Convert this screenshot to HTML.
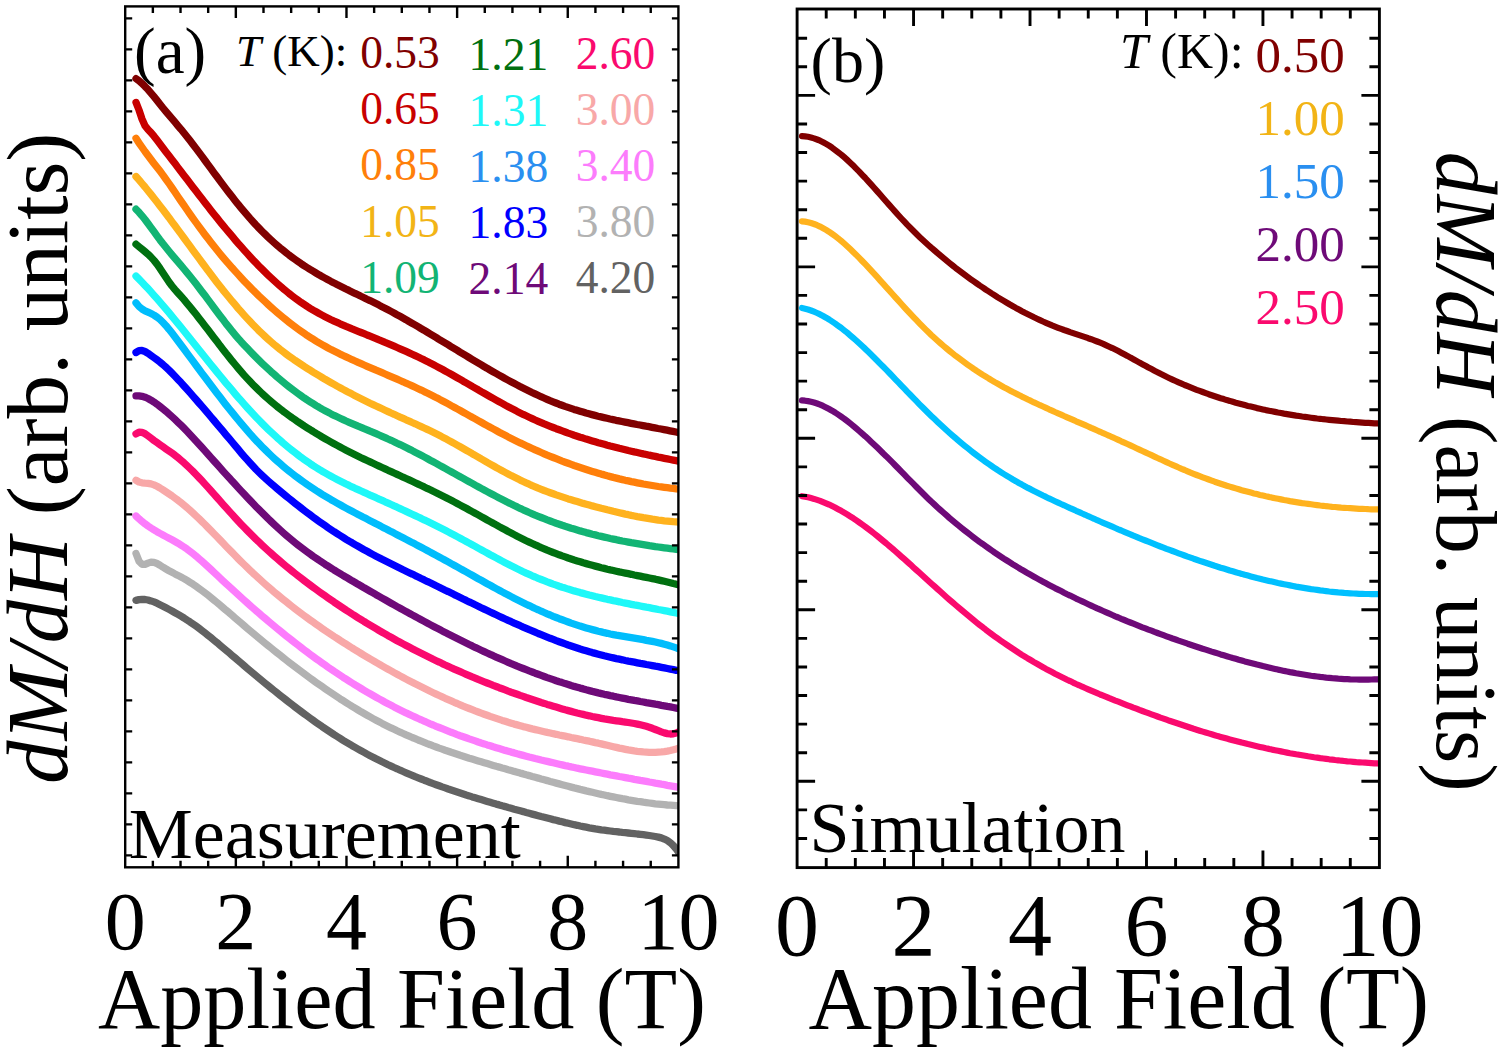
<!DOCTYPE html>
<html><head><meta charset="utf-8"><style>
html,body{margin:0;padding:0;background:#fff;}
body{width:1500px;height:1052px;overflow:hidden;font-family:"Liberation Serif",serif;}
svg{display:block;}
</style></head><body>
<svg width="1500" height="1052" viewBox="0 0 1500 1052">
<rect width="1500" height="1052" fill="#fff"/>
<defs><clipPath id="ca"><rect x="125.20" y="6.40" width="553.20" height="860.90"/></clipPath><clipPath id="cb"><rect x="797.10" y="9.00" width="582.30" height="858.60"/></clipPath></defs>
<g clip-path="url(#ca)" fill="none" stroke-linecap="round" stroke-linejoin="round" stroke-width="7.3">
<path d="M136.0,600.4 L139.0,599.6 L142.0,599.4 L145.0,599.5 L148.0,600.0 L151.0,600.9 L154.0,601.9 L157.0,603.2 L160.0,604.7 L163.0,606.2 L166.0,607.8 L169.0,609.4 L172.0,611.0 L175.0,612.7 L178.0,614.4 L181.0,616.2 L184.0,618.0 L187.0,620.0 L190.0,621.9 L193.0,624.0 L196.0,626.1 L199.0,628.3 L202.0,630.6 L205.0,632.9 L208.0,635.3 L211.0,637.7 L214.0,640.2 L217.0,642.6 L220.0,645.2 L223.0,647.7 L226.0,650.2 L229.1,652.8 L232.1,655.4 L235.1,657.9 L238.1,660.5 L241.1,663.1 L244.1,665.6 L247.1,668.2 L250.1,670.7 L253.1,673.2 L256.1,675.7 L259.1,678.2 L262.1,680.7 L265.1,683.2 L268.1,685.6 L271.1,688.1 L274.1,690.5 L277.1,692.9 L280.1,695.3 L283.1,697.7 L286.1,700.0 L289.1,702.4 L292.1,704.7 L295.1,707.0 L298.1,709.2 L301.1,711.5 L304.1,713.7 L307.1,715.9 L310.1,718.1 L313.1,720.3 L316.1,722.4 L319.1,724.5 L322.1,726.6 L325.1,728.6 L328.1,730.6 L331.1,732.6 L334.1,734.6 L337.1,736.5 L340.1,738.4 L343.1,740.3 L346.1,742.1 L349.1,743.9 L352.1,745.7 L355.1,747.4 L358.1,749.1 L361.1,750.8 L364.1,752.4 L367.1,754.1 L370.1,755.7 L373.1,757.2 L376.1,758.8 L379.1,760.3 L382.1,761.8 L385.1,763.2 L388.1,764.7 L391.1,766.1 L394.1,767.5 L397.1,768.8 L400.1,770.2 L403.1,771.5 L406.1,772.8 L409.2,774.1 L412.2,775.3 L415.2,776.6 L418.2,777.8 L421.2,779.0 L424.2,780.2 L427.2,781.3 L430.2,782.5 L433.2,783.6 L436.2,784.7 L439.2,785.8 L442.2,786.9 L445.2,787.9 L448.2,789.0 L451.2,790.0 L454.2,791.0 L457.2,792.0 L460.2,793.0 L463.2,794.0 L466.2,795.0 L469.2,795.9 L472.2,796.9 L475.2,797.8 L478.2,798.7 L481.2,799.6 L484.2,800.5 L487.2,801.4 L490.2,802.3 L493.2,803.2 L496.2,804.1 L499.2,804.9 L502.2,805.8 L505.2,806.6 L508.2,807.5 L511.2,808.3 L514.2,809.2 L517.2,810.0 L520.2,810.8 L523.2,811.6 L526.2,812.5 L529.2,813.3 L532.2,814.1 L535.2,814.9 L538.2,815.7 L541.2,816.5 L544.2,817.2 L547.2,818.0 L550.2,818.8 L553.2,819.6 L556.2,820.3 L559.2,821.1 L562.2,821.8 L565.2,822.6 L568.2,823.3 L571.2,824.0 L574.2,824.7 L577.2,825.3 L580.2,826.0 L583.2,826.6 L586.2,827.2 L589.3,827.8 L592.3,828.3 L595.3,828.9 L598.3,829.3 L601.3,829.8 L604.3,830.2 L607.3,830.6 L610.3,831.0 L613.3,831.4 L616.3,831.7 L619.3,832.0 L622.3,832.4 L625.3,832.7 L628.3,833.0 L631.3,833.3 L634.3,833.6 L637.3,834.0 L640.3,834.3 L643.3,834.7 L646.3,835.1 L649.3,835.5 L652.3,836.0 L655.3,836.5 L658.3,837.1 L661.3,837.9 L664.3,839.1 L667.3,840.6 L670.3,842.7 L673.3,845.5 L676.3,849.0 L679.3,853.4" stroke="#626262"/>
<path d="M136.0,553.5 L139.0,561.2 L142.0,564.3 L145.0,564.4 L148.0,563.1 L151.0,562.1 L154.0,562.4 L157.0,563.5 L160.0,565.2 L163.0,567.2 L166.0,569.0 L169.0,570.7 L172.0,572.3 L175.0,573.9 L178.0,575.4 L181.0,577.0 L184.0,578.6 L187.0,580.4 L190.0,582.3 L193.0,584.2 L196.0,586.3 L199.0,588.4 L202.0,590.6 L205.0,592.9 L208.0,595.2 L211.0,597.6 L214.0,600.1 L217.0,602.5 L220.0,605.1 L223.0,607.6 L226.0,610.2 L229.1,612.7 L232.1,615.3 L235.1,617.9 L238.1,620.5 L241.1,623.1 L244.1,625.6 L247.1,628.2 L250.1,630.7 L253.1,633.2 L256.1,635.7 L259.1,638.2 L262.1,640.7 L265.1,643.2 L268.1,645.6 L271.1,648.0 L274.1,650.5 L277.1,652.9 L280.1,655.2 L283.1,657.6 L286.1,660.0 L289.1,662.3 L292.1,664.6 L295.1,666.9 L298.1,669.2 L301.1,671.4 L304.1,673.7 L307.1,675.9 L310.1,678.1 L313.1,680.3 L316.1,682.4 L319.1,684.5 L322.1,686.6 L325.1,688.7 L328.1,690.8 L331.1,692.8 L334.1,694.8 L337.1,696.8 L340.1,698.8 L343.1,700.7 L346.1,702.6 L349.1,704.5 L352.1,706.4 L355.1,708.2 L358.1,710.0 L361.1,711.8 L364.1,713.5 L367.1,715.2 L370.1,716.9 L373.1,718.6 L376.1,720.2 L379.1,721.8 L382.1,723.4 L385.1,724.9 L388.1,726.4 L391.1,727.9 L394.1,729.3 L397.1,730.8 L400.1,732.2 L403.1,733.5 L406.1,734.9 L409.2,736.2 L412.2,737.5 L415.2,738.7 L418.2,740.0 L421.2,741.2 L424.2,742.4 L427.2,743.6 L430.2,744.7 L433.2,745.9 L436.2,747.0 L439.2,748.1 L442.2,749.1 L445.2,750.2 L448.2,751.2 L451.2,752.3 L454.2,753.3 L457.2,754.3 L460.2,755.3 L463.2,756.2 L466.2,757.2 L469.2,758.2 L472.2,759.1 L475.2,760.0 L478.2,760.9 L481.2,761.8 L484.2,762.7 L487.2,763.6 L490.2,764.5 L493.2,765.4 L496.2,766.3 L499.2,767.1 L502.2,768.0 L505.2,768.8 L508.2,769.7 L511.2,770.5 L514.2,771.4 L517.2,772.2 L520.2,773.1 L523.2,773.9 L526.2,774.8 L529.2,775.6 L532.2,776.5 L535.2,777.3 L538.2,778.1 L541.2,779.0 L544.2,779.8 L547.2,780.6 L550.2,781.5 L553.2,782.3 L556.2,783.1 L559.2,783.9 L562.2,784.7 L565.2,785.5 L568.2,786.3 L571.2,787.1 L574.2,787.9 L577.2,788.6 L580.2,789.4 L583.2,790.1 L586.2,790.9 L589.3,791.6 L592.3,792.3 L595.3,793.0 L598.3,793.7 L601.3,794.4 L604.3,795.0 L607.3,795.7 L610.3,796.3 L613.3,796.9 L616.3,797.5 L619.3,798.1 L622.3,798.7 L625.3,799.2 L628.3,799.8 L631.3,800.3 L634.3,800.8 L637.3,801.3 L640.3,801.7 L643.3,802.2 L646.3,802.6 L649.3,803.0 L652.3,803.4 L655.3,803.8 L658.3,804.1 L661.3,804.4 L664.3,804.7 L667.3,805.0 L670.3,805.2 L673.3,805.4 L676.3,805.6 L679.3,805.8" stroke="#b2b2b2"/>
<path d="M136.0,516.0 L139.0,518.8 L142.0,521.4 L145.0,523.8 L148.0,526.0 L151.0,528.0 L154.0,529.9 L157.0,531.7 L160.0,533.4 L163.0,535.0 L166.0,536.6 L169.0,538.2 L172.0,539.8 L175.0,541.5 L178.0,543.2 L181.0,545.1 L184.0,547.0 L187.0,549.1 L190.0,551.4 L193.0,553.7 L196.0,556.1 L199.0,558.7 L202.0,561.3 L205.0,564.0 L208.0,566.7 L211.0,569.5 L214.0,572.3 L217.0,575.1 L220.0,578.0 L223.0,580.8 L226.0,583.6 L229.1,586.4 L232.1,589.2 L235.1,591.9 L238.1,594.7 L241.1,597.4 L244.1,600.1 L247.1,602.8 L250.1,605.4 L253.1,608.1 L256.1,610.7 L259.1,613.3 L262.1,615.9 L265.1,618.4 L268.1,621.0 L271.1,623.5 L274.1,626.0 L277.1,628.5 L280.1,630.9 L283.1,633.4 L286.1,635.8 L289.1,638.2 L292.1,640.5 L295.1,642.9 L298.1,645.2 L301.1,647.5 L304.1,649.8 L307.1,652.0 L310.1,654.3 L313.1,656.5 L316.1,658.7 L319.1,660.8 L322.1,663.0 L325.1,665.1 L328.1,667.2 L331.1,669.2 L334.1,671.3 L337.1,673.3 L340.1,675.3 L343.1,677.3 L346.1,679.2 L349.1,681.1 L352.1,683.0 L355.1,684.9 L358.1,686.7 L361.1,688.5 L364.1,690.3 L367.1,692.1 L370.1,693.8 L373.1,695.5 L376.1,697.2 L379.1,698.9 L382.1,700.5 L385.1,702.2 L388.1,703.8 L391.1,705.3 L394.1,706.9 L397.1,708.4 L400.1,709.9 L403.1,711.4 L406.1,712.9 L409.2,714.3 L412.2,715.7 L415.2,717.1 L418.2,718.5 L421.2,719.8 L424.2,721.2 L427.2,722.5 L430.2,723.8 L433.2,725.0 L436.2,726.3 L439.2,727.5 L442.2,728.7 L445.2,729.9 L448.2,731.1 L451.2,732.3 L454.2,733.4 L457.2,734.6 L460.2,735.7 L463.2,736.7 L466.2,737.8 L469.2,738.9 L472.2,739.9 L475.2,740.9 L478.2,742.0 L481.2,743.0 L484.2,743.9 L487.2,744.9 L490.2,745.8 L493.2,746.8 L496.2,747.7 L499.2,748.6 L502.2,749.5 L505.2,750.4 L508.2,751.2 L511.2,752.1 L514.2,752.9 L517.2,753.8 L520.2,754.6 L523.2,755.4 L526.2,756.2 L529.2,757.0 L532.2,757.7 L535.2,758.5 L538.2,759.2 L541.2,760.0 L544.2,760.7 L547.2,761.4 L550.2,762.1 L553.2,762.8 L556.2,763.5 L559.2,764.2 L562.2,764.9 L565.2,765.6 L568.2,766.2 L571.2,766.9 L574.2,767.5 L577.2,768.2 L580.2,768.8 L583.2,769.4 L586.2,770.0 L589.3,770.6 L592.3,771.2 L595.3,771.8 L598.3,772.4 L601.3,773.0 L604.3,773.6 L607.3,774.2 L610.3,774.8 L613.3,775.3 L616.3,775.9 L619.3,776.5 L622.3,777.0 L625.3,777.6 L628.3,778.2 L631.3,778.7 L634.3,779.3 L637.3,779.8 L640.3,780.4 L643.3,780.9 L646.3,781.4 L649.3,782.0 L652.3,782.5 L655.3,783.1 L658.3,783.6 L661.3,784.2 L664.3,784.7 L667.3,785.3 L670.3,785.8 L673.3,786.3 L676.3,786.9 L679.3,787.4" stroke="#fc7cfc"/>
<path d="M136.0,480.3 L139.0,482.0 L142.0,482.8 L145.0,483.1 L148.0,483.3 L151.0,483.9 L154.0,484.9 L157.0,486.3 L160.0,488.0 L163.0,489.9 L166.0,491.9 L169.0,493.9 L172.0,495.9 L175.0,498.1 L178.0,500.3 L181.0,502.7 L184.0,505.1 L187.0,507.6 L190.0,510.3 L193.0,513.0 L196.0,515.8 L199.0,518.6 L202.0,521.6 L205.0,524.5 L208.0,527.6 L211.0,530.6 L214.0,533.7 L217.0,536.8 L220.0,539.9 L223.0,543.1 L226.0,546.2 L229.1,549.3 L232.1,552.4 L235.1,555.5 L238.1,558.6 L241.1,561.6 L244.1,564.5 L247.1,567.4 L250.1,570.3 L253.1,573.2 L256.1,575.9 L259.1,578.7 L262.1,581.4 L265.1,584.1 L268.1,586.7 L271.1,589.3 L274.1,591.9 L277.1,594.4 L280.1,596.9 L283.1,599.3 L286.1,601.7 L289.1,604.1 L292.1,606.5 L295.1,608.8 L298.1,611.1 L301.1,613.4 L304.1,615.6 L307.1,617.8 L310.1,620.0 L313.1,622.1 L316.1,624.2 L319.1,626.3 L322.1,628.4 L325.1,630.5 L328.1,632.5 L331.1,634.5 L334.1,636.5 L337.1,638.4 L340.1,640.4 L343.1,642.3 L346.1,644.2 L349.1,646.1 L352.1,648.0 L355.1,649.8 L358.1,651.7 L361.1,653.5 L364.1,655.3 L367.1,657.1 L370.1,658.9 L373.1,660.6 L376.1,662.4 L379.1,664.1 L382.1,665.9 L385.1,667.6 L388.1,669.3 L391.1,670.9 L394.1,672.6 L397.1,674.2 L400.1,675.9 L403.1,677.5 L406.1,679.1 L409.2,680.7 L412.2,682.2 L415.2,683.8 L418.2,685.3 L421.2,686.8 L424.2,688.3 L427.2,689.8 L430.2,691.3 L433.2,692.7 L436.2,694.1 L439.2,695.5 L442.2,696.9 L445.2,698.3 L448.2,699.6 L451.2,700.9 L454.2,702.3 L457.2,703.5 L460.2,704.8 L463.2,706.1 L466.2,707.3 L469.2,708.5 L472.2,709.7 L475.2,710.9 L478.2,712.0 L481.2,713.1 L484.2,714.2 L487.2,715.3 L490.2,716.4 L493.2,717.4 L496.2,718.4 L499.2,719.4 L502.2,720.4 L505.2,721.3 L508.2,722.3 L511.2,723.2 L514.2,724.1 L517.2,724.9 L520.2,725.7 L523.2,726.6 L526.2,727.3 L529.2,728.1 L532.2,728.9 L535.2,729.6 L538.2,730.3 L541.2,731.0 L544.2,731.7 L547.2,732.4 L550.2,733.0 L553.2,733.7 L556.2,734.3 L559.2,735.0 L562.2,735.6 L565.2,736.2 L568.2,736.8 L571.2,737.5 L574.2,738.1 L577.2,738.7 L580.2,739.3 L583.2,740.0 L586.2,740.6 L589.3,741.2 L592.3,741.9 L595.3,742.6 L598.3,743.2 L601.3,743.9 L604.3,744.6 L607.3,745.3 L610.3,746.0 L613.3,746.7 L616.3,747.4 L619.3,748.1 L622.3,748.7 L625.3,749.3 L628.3,749.9 L631.3,750.4 L634.3,750.9 L637.3,751.3 L640.3,751.6 L643.3,751.9 L646.3,752.1 L649.3,752.3 L652.3,752.3 L655.3,752.3 L658.3,752.1 L661.3,751.9 L664.3,751.6 L667.3,751.1 L670.3,750.5 L673.3,749.8 L676.3,748.9 L679.3,747.9" stroke="#f8a8a8"/>
<path d="M136.0,433.9 L139.0,432.2 L142.0,432.4 L145.0,433.7 L148.0,435.9 L151.0,438.2 L154.0,440.5 L157.0,442.6 L160.0,444.7 L163.0,446.8 L166.0,448.9 L169.0,451.0 L172.0,453.1 L175.0,455.3 L178.0,457.7 L181.0,460.2 L184.0,462.8 L187.0,465.6 L190.0,468.5 L193.0,471.4 L196.0,474.5 L199.0,477.6 L202.0,480.8 L205.0,484.1 L208.0,487.4 L211.0,490.7 L214.0,494.1 L217.0,497.5 L220.0,500.9 L223.0,504.3 L226.0,507.7 L229.1,511.1 L232.1,514.4 L235.1,517.7 L238.1,521.0 L241.1,524.2 L244.1,527.3 L247.1,530.4 L250.1,533.4 L253.1,536.4 L256.1,539.4 L259.1,542.2 L262.1,545.1 L265.1,547.9 L268.1,550.6 L271.1,553.3 L274.1,556.0 L277.1,558.6 L280.1,561.1 L283.1,563.7 L286.1,566.2 L289.1,568.6 L292.1,571.1 L295.1,573.5 L298.1,575.8 L301.1,578.2 L304.1,580.5 L307.1,582.7 L310.1,585.0 L313.1,587.2 L316.1,589.4 L319.1,591.6 L322.1,593.7 L325.1,595.8 L328.1,597.9 L331.1,600.0 L334.1,602.1 L337.1,604.1 L340.1,606.1 L343.1,608.1 L346.1,610.1 L349.1,612.0 L352.1,614.0 L355.1,615.9 L358.1,617.8 L361.1,619.6 L364.1,621.5 L367.1,623.3 L370.1,625.1 L373.1,626.9 L376.1,628.7 L379.1,630.5 L382.1,632.2 L385.1,633.9 L388.1,635.7 L391.1,637.3 L394.1,639.0 L397.1,640.7 L400.1,642.3 L403.1,643.9 L406.1,645.5 L409.2,647.1 L412.2,648.7 L415.2,650.3 L418.2,651.8 L421.2,653.3 L424.2,654.8 L427.2,656.3 L430.2,657.8 L433.2,659.3 L436.2,660.7 L439.2,662.1 L442.2,663.6 L445.2,665.0 L448.2,666.3 L451.2,667.7 L454.2,669.1 L457.2,670.4 L460.2,671.7 L463.2,673.0 L466.2,674.3 L469.2,675.6 L472.2,676.9 L475.2,678.1 L478.2,679.4 L481.2,680.6 L484.2,681.8 L487.2,683.0 L490.2,684.2 L493.2,685.4 L496.2,686.5 L499.2,687.7 L502.2,688.8 L505.2,689.9 L508.2,691.1 L511.2,692.2 L514.2,693.2 L517.2,694.3 L520.2,695.4 L523.2,696.4 L526.2,697.5 L529.2,698.5 L532.2,699.5 L535.2,700.5 L538.2,701.5 L541.2,702.5 L544.2,703.4 L547.2,704.4 L550.2,705.3 L553.2,706.2 L556.2,707.1 L559.2,708.0 L562.2,708.9 L565.2,709.8 L568.2,710.6 L571.2,711.4 L574.2,712.2 L577.2,713.0 L580.2,713.7 L583.2,714.4 L586.2,715.2 L589.3,715.8 L592.3,716.5 L595.3,717.1 L598.3,717.7 L601.3,718.3 L604.3,718.9 L607.3,719.4 L610.3,719.9 L613.3,720.4 L616.3,720.8 L619.3,721.2 L622.3,721.7 L625.3,722.1 L628.3,722.5 L631.3,723.0 L634.3,723.5 L637.3,724.1 L640.3,724.8 L643.3,725.5 L646.3,726.3 L649.3,727.2 L652.3,728.3 L655.3,729.5 L658.3,730.7 L661.3,731.9 L664.3,732.9 L667.3,733.6 L670.3,734.0 L673.3,733.8 L676.3,733.0 L679.3,731.6" stroke="#fa0a6e"/>
<path d="M136.0,395.9 L139.0,395.8 L142.0,396.3 L145.0,397.2 L148.0,398.5 L151.0,400.2 L154.0,402.1 L157.0,404.2 L160.0,406.5 L163.0,408.9 L166.0,411.3 L169.0,413.9 L172.0,416.6 L175.0,419.4 L178.0,422.3 L181.0,425.2 L184.0,428.2 L187.0,431.3 L190.0,434.5 L193.0,437.7 L196.0,440.9 L199.0,444.2 L202.0,447.5 L205.0,450.9 L208.0,454.2 L211.0,457.6 L214.0,461.0 L217.0,464.3 L220.0,467.7 L223.0,471.1 L226.0,474.4 L229.1,477.7 L232.1,481.1 L235.1,484.3 L238.1,487.6 L241.1,490.9 L244.1,494.1 L247.1,497.3 L250.1,500.4 L253.1,503.6 L256.1,506.7 L259.1,509.7 L262.1,512.7 L265.1,515.7 L268.1,518.7 L271.1,521.5 L274.1,524.4 L277.1,527.2 L280.1,529.9 L283.1,532.6 L286.1,535.2 L289.1,537.7 L292.1,540.2 L295.1,542.7 L298.1,545.1 L301.1,547.4 L304.1,549.7 L307.1,551.9 L310.1,554.0 L313.1,556.2 L316.1,558.2 L319.1,560.3 L322.1,562.3 L325.1,564.3 L328.1,566.2 L331.1,568.1 L334.1,570.0 L337.1,571.8 L340.1,573.6 L343.1,575.5 L346.1,577.2 L349.1,579.0 L352.1,580.8 L355.1,582.5 L358.1,584.3 L361.1,586.0 L364.1,587.8 L367.1,589.5 L370.1,591.2 L373.1,592.9 L376.1,594.7 L379.1,596.4 L382.1,598.1 L385.1,599.8 L388.1,601.5 L391.1,603.2 L394.1,604.9 L397.1,606.6 L400.1,608.2 L403.1,609.9 L406.1,611.6 L409.2,613.2 L412.2,614.9 L415.2,616.5 L418.2,618.1 L421.2,619.8 L424.2,621.4 L427.2,623.0 L430.2,624.6 L433.2,626.2 L436.2,627.8 L439.2,629.3 L442.2,630.9 L445.2,632.4 L448.2,634.0 L451.2,635.5 L454.2,637.0 L457.2,638.5 L460.2,640.0 L463.2,641.5 L466.2,643.0 L469.2,644.5 L472.2,645.9 L475.2,647.4 L478.2,648.8 L481.2,650.2 L484.2,651.6 L487.2,653.0 L490.2,654.4 L493.2,655.7 L496.2,657.1 L499.2,658.4 L502.2,659.7 L505.2,661.0 L508.2,662.3 L511.2,663.6 L514.2,664.8 L517.2,666.1 L520.2,667.3 L523.2,668.5 L526.2,669.7 L529.2,670.9 L532.2,672.0 L535.2,673.2 L538.2,674.3 L541.2,675.4 L544.2,676.5 L547.2,677.6 L550.2,678.6 L553.2,679.6 L556.2,680.7 L559.2,681.7 L562.2,682.6 L565.2,683.6 L568.2,684.5 L571.2,685.5 L574.2,686.4 L577.2,687.2 L580.2,688.1 L583.2,688.9 L586.2,689.8 L589.3,690.6 L592.3,691.4 L595.3,692.1 L598.3,692.9 L601.3,693.6 L604.3,694.3 L607.3,694.9 L610.3,695.6 L613.3,696.2 L616.3,696.9 L619.3,697.5 L622.3,698.1 L625.3,698.7 L628.3,699.3 L631.3,699.8 L634.3,700.4 L637.3,700.9 L640.3,701.5 L643.3,702.0 L646.3,702.6 L649.3,703.1 L652.3,703.6 L655.3,704.2 L658.3,704.7 L661.3,705.3 L664.3,705.8 L667.3,706.4 L670.3,706.9 L673.3,707.5 L676.3,708.1 L679.3,708.7" stroke="#6e0a78"/>
<path d="M136.0,352.5 L139.0,350.7 L142.0,350.5 L145.0,351.5 L148.0,353.3 L151.0,355.4 L154.0,357.6 L157.0,359.8 L160.0,362.1 L163.0,364.6 L166.0,367.3 L169.0,370.1 L172.0,373.1 L175.0,376.2 L178.0,379.4 L181.0,382.6 L184.0,386.0 L187.0,389.3 L190.0,392.7 L193.0,396.1 L196.0,399.5 L199.0,403.0 L202.0,406.4 L205.0,409.9 L208.0,413.4 L211.0,417.0 L214.0,420.5 L217.0,424.1 L220.0,427.6 L223.0,431.2 L226.0,434.8 L229.1,438.4 L232.1,442.0 L235.1,445.6 L238.1,449.2 L241.1,452.8 L244.1,456.3 L247.1,459.7 L250.1,463.0 L253.1,466.3 L256.1,469.5 L259.1,472.5 L262.1,475.4 L265.1,478.2 L268.1,480.9 L271.1,483.5 L274.1,486.1 L277.1,488.6 L280.1,491.1 L283.1,493.6 L286.1,496.1 L289.1,498.5 L292.1,500.9 L295.1,503.3 L298.1,505.7 L301.1,508.0 L304.1,510.3 L307.1,512.6 L310.1,514.8 L313.1,517.1 L316.1,519.3 L319.1,521.4 L322.1,523.5 L325.1,525.6 L328.1,527.7 L331.1,529.7 L334.1,531.7 L337.1,533.6 L340.1,535.5 L343.1,537.4 L346.1,539.3 L349.1,541.1 L352.1,542.8 L355.1,544.6 L358.1,546.3 L361.1,548.0 L364.1,549.7 L367.1,551.3 L370.1,553.0 L373.1,554.6 L376.1,556.2 L379.1,557.7 L382.1,559.3 L385.1,560.8 L388.1,562.3 L391.1,563.8 L394.1,565.3 L397.1,566.8 L400.1,568.3 L403.1,569.8 L406.1,571.2 L409.2,572.7 L412.2,574.1 L415.2,575.6 L418.2,577.0 L421.2,578.5 L424.2,579.9 L427.2,581.4 L430.2,582.8 L433.2,584.3 L436.2,585.8 L439.2,587.2 L442.2,588.7 L445.2,590.2 L448.2,591.6 L451.2,593.1 L454.2,594.6 L457.2,596.0 L460.2,597.5 L463.2,599.0 L466.2,600.4 L469.2,601.9 L472.2,603.3 L475.2,604.8 L478.2,606.2 L481.2,607.7 L484.2,609.1 L487.2,610.5 L490.2,612.0 L493.2,613.4 L496.2,614.8 L499.2,616.2 L502.2,617.6 L505.2,619.0 L508.2,620.4 L511.2,621.7 L514.2,623.1 L517.2,624.4 L520.2,625.7 L523.2,627.1 L526.2,628.4 L529.2,629.7 L532.2,630.9 L535.2,632.2 L538.2,633.5 L541.2,634.7 L544.2,635.9 L547.2,637.1 L550.2,638.3 L553.2,639.4 L556.2,640.6 L559.2,641.7 L562.2,642.8 L565.2,643.9 L568.2,645.0 L571.2,646.0 L574.2,647.0 L577.2,648.0 L580.2,649.0 L583.2,649.9 L586.2,650.8 L589.3,651.7 L592.3,652.6 L595.3,653.4 L598.3,654.2 L601.3,655.0 L604.3,655.8 L607.3,656.5 L610.3,657.2 L613.3,657.9 L616.3,658.6 L619.3,659.2 L622.3,659.8 L625.3,660.5 L628.3,661.1 L631.3,661.6 L634.3,662.2 L637.3,662.8 L640.3,663.4 L643.3,663.9 L646.3,664.5 L649.3,665.0 L652.3,665.6 L655.3,666.2 L658.3,666.7 L661.3,667.3 L664.3,667.9 L667.3,668.5 L670.3,669.1 L673.3,669.7 L676.3,670.3 L679.3,671.0" stroke="#0000ff"/>
<path d="M136.0,302.9 L139.0,306.5 L142.0,309.0 L145.0,310.8 L148.0,312.1 L151.0,313.5 L154.0,315.1 L157.0,317.1 L160.0,319.5 L163.0,322.5 L166.0,325.7 L169.0,329.3 L172.0,333.1 L175.0,337.0 L178.0,341.0 L181.0,345.0 L184.0,349.0 L187.0,353.1 L190.0,357.1 L193.0,361.2 L196.0,365.2 L199.0,369.2 L202.0,373.3 L205.0,377.3 L208.0,381.3 L211.0,385.3 L214.0,389.3 L217.0,393.2 L220.0,397.1 L223.0,401.0 L226.0,404.9 L229.1,408.7 L232.1,412.4 L235.1,416.1 L238.1,419.8 L241.1,423.4 L244.1,426.9 L247.1,430.4 L250.1,433.8 L253.1,437.2 L256.1,440.4 L259.1,443.6 L262.1,446.7 L265.1,449.7 L268.1,452.6 L271.1,455.5 L274.1,458.3 L277.1,461.0 L280.1,463.6 L283.1,466.2 L286.1,468.7 L289.1,471.1 L292.1,473.5 L295.1,475.8 L298.1,478.0 L301.1,480.2 L304.1,482.4 L307.1,484.5 L310.1,486.5 L313.1,488.5 L316.1,490.5 L319.1,492.4 L322.1,494.3 L325.1,496.1 L328.1,497.9 L331.1,499.7 L334.1,501.4 L337.1,503.1 L340.1,504.8 L343.1,506.5 L346.1,508.1 L349.1,509.7 L352.1,511.3 L355.1,512.9 L358.1,514.5 L361.1,516.0 L364.1,517.6 L367.1,519.1 L370.1,520.7 L373.1,522.2 L376.1,523.8 L379.1,525.3 L382.1,526.9 L385.1,528.4 L388.1,530.0 L391.1,531.6 L394.1,533.1 L397.1,534.7 L400.1,536.3 L403.1,537.8 L406.1,539.4 L409.2,541.0 L412.2,542.6 L415.2,544.1 L418.2,545.7 L421.2,547.3 L424.2,548.9 L427.2,550.5 L430.2,552.1 L433.2,553.8 L436.2,555.4 L439.2,557.0 L442.2,558.6 L445.2,560.3 L448.2,561.9 L451.2,563.6 L454.2,565.2 L457.2,566.9 L460.2,568.6 L463.2,570.3 L466.2,571.9 L469.2,573.6 L472.2,575.3 L475.2,577.0 L478.2,578.7 L481.2,580.3 L484.2,582.0 L487.2,583.7 L490.2,585.3 L493.2,587.0 L496.2,588.6 L499.2,590.2 L502.2,591.9 L505.2,593.5 L508.2,595.0 L511.2,596.6 L514.2,598.2 L517.2,599.7 L520.2,601.2 L523.2,602.7 L526.2,604.2 L529.2,605.6 L532.2,607.1 L535.2,608.5 L538.2,609.8 L541.2,611.2 L544.2,612.5 L547.2,613.8 L550.2,615.0 L553.2,616.3 L556.2,617.5 L559.2,618.7 L562.2,619.8 L565.2,620.9 L568.2,622.0 L571.2,623.1 L574.2,624.1 L577.2,625.1 L580.2,626.1 L583.2,627.0 L586.2,627.9 L589.3,628.8 L592.3,629.6 L595.3,630.4 L598.3,631.2 L601.3,631.9 L604.3,632.7 L607.3,633.3 L610.3,634.0 L613.3,634.6 L616.3,635.2 L619.3,635.7 L622.3,636.2 L625.3,636.7 L628.3,637.2 L631.3,637.7 L634.3,638.2 L637.3,638.7 L640.3,639.2 L643.3,639.7 L646.3,640.3 L649.3,640.8 L652.3,641.4 L655.3,642.0 L658.3,642.7 L661.3,643.4 L664.3,644.2 L667.3,645.0 L670.3,645.9 L673.3,646.9 L676.3,647.9 L679.3,649.0" stroke="#00bdfc"/>
<path d="M136.0,276.1 L139.0,279.1 L142.0,282.2 L145.0,285.4 L148.0,288.6 L151.0,291.9 L154.0,295.3 L157.0,298.7 L160.0,302.1 L163.0,305.6 L166.0,309.1 L169.0,312.7 L172.0,316.3 L175.0,320.0 L178.0,323.6 L181.0,327.3 L184.0,331.0 L187.0,334.7 L190.0,338.5 L193.0,342.2 L196.0,346.0 L199.0,349.7 L202.0,353.5 L205.0,357.2 L208.0,361.0 L211.0,364.7 L214.0,368.4 L217.0,372.1 L220.0,375.8 L223.0,379.4 L226.0,383.1 L229.1,386.7 L232.1,390.2 L235.1,393.8 L238.1,397.3 L241.1,400.7 L244.1,404.1 L247.1,407.5 L250.1,410.8 L253.1,414.0 L256.1,417.2 L259.1,420.3 L262.1,423.4 L265.1,426.4 L268.1,429.3 L271.1,432.1 L274.1,434.9 L277.1,437.7 L280.1,440.3 L283.1,443.0 L286.1,445.5 L289.1,448.0 L292.1,450.4 L295.1,452.7 L298.1,455.0 L301.1,457.3 L304.1,459.4 L307.1,461.5 L310.1,463.6 L313.1,465.6 L316.1,467.5 L319.1,469.4 L322.1,471.2 L325.1,472.9 L328.1,474.6 L331.1,476.3 L334.1,477.9 L337.1,479.5 L340.1,481.0 L343.1,482.5 L346.1,484.0 L349.1,485.4 L352.1,486.9 L355.1,488.3 L358.1,489.6 L361.1,491.0 L364.1,492.4 L367.1,493.7 L370.1,495.1 L373.1,496.4 L376.1,497.7 L379.1,499.1 L382.1,500.4 L385.1,501.8 L388.1,503.1 L391.1,504.5 L394.1,505.9 L397.1,507.2 L400.1,508.6 L403.1,510.0 L406.1,511.4 L409.2,512.8 L412.2,514.2 L415.2,515.6 L418.2,517.0 L421.2,518.4 L424.2,519.9 L427.2,521.3 L430.2,522.8 L433.2,524.3 L436.2,525.8 L439.2,527.3 L442.2,528.8 L445.2,530.3 L448.2,531.9 L451.2,533.5 L454.2,535.0 L457.2,536.6 L460.2,538.2 L463.2,539.9 L466.2,541.5 L469.2,543.1 L472.2,544.8 L475.2,546.4 L478.2,548.1 L481.2,549.7 L484.2,551.4 L487.2,553.0 L490.2,554.7 L493.2,556.3 L496.2,557.9 L499.2,559.5 L502.2,561.1 L505.2,562.7 L508.2,564.2 L511.2,565.8 L514.2,567.3 L517.2,568.8 L520.2,570.2 L523.2,571.7 L526.2,573.1 L529.2,574.4 L532.2,575.8 L535.2,577.0 L538.2,578.3 L541.2,579.5 L544.2,580.7 L547.2,581.9 L550.2,583.0 L553.2,584.1 L556.2,585.1 L559.2,586.2 L562.2,587.2 L565.2,588.1 L568.2,589.1 L571.2,590.0 L574.2,590.9 L577.2,591.7 L580.2,592.6 L583.2,593.4 L586.2,594.2 L589.3,595.0 L592.3,595.7 L595.3,596.5 L598.3,597.2 L601.3,597.9 L604.3,598.6 L607.3,599.3 L610.3,599.9 L613.3,600.6 L616.3,601.2 L619.3,601.8 L622.3,602.5 L625.3,603.1 L628.3,603.7 L631.3,604.3 L634.3,604.9 L637.3,605.4 L640.3,606.0 L643.3,606.6 L646.3,607.2 L649.3,607.7 L652.3,608.3 L655.3,608.9 L658.3,609.5 L661.3,610.0 L664.3,610.6 L667.3,611.2 L670.3,611.8 L673.3,612.4 L676.3,613.0 L679.3,613.6" stroke="#1ef8f8"/>
<path d="M136.0,244.2 L139.0,246.7 L142.0,249.1 L145.0,251.6 L148.0,254.2 L151.0,257.1 L154.0,260.4 L157.0,264.1 L160.0,268.4 L163.0,273.0 L166.0,277.6 L169.0,282.0 L172.0,286.0 L175.0,289.6 L178.0,293.0 L181.0,296.3 L184.0,299.7 L187.0,303.3 L190.0,306.9 L193.0,310.6 L196.0,314.3 L199.0,318.2 L202.0,322.0 L205.0,325.9 L208.0,329.8 L211.0,333.8 L214.0,337.7 L217.0,341.6 L220.0,345.6 L223.0,349.4 L226.0,353.3 L229.1,357.1 L232.1,360.9 L235.1,364.5 L238.1,368.1 L241.1,371.6 L244.1,375.1 L247.1,378.4 L250.1,381.6 L253.1,384.7 L256.1,387.7 L259.1,390.6 L262.1,393.5 L265.1,396.2 L268.1,398.9 L271.1,401.5 L274.1,404.0 L277.1,406.5 L280.1,408.8 L283.1,411.2 L286.1,413.4 L289.1,415.6 L292.1,417.8 L295.1,419.8 L298.1,421.9 L301.1,423.9 L304.1,425.9 L307.1,427.8 L310.1,429.7 L313.1,431.5 L316.1,433.4 L319.1,435.2 L322.1,437.0 L325.1,438.7 L328.1,440.4 L331.1,442.1 L334.1,443.8 L337.1,445.4 L340.1,447.0 L343.1,448.6 L346.1,450.2 L349.1,451.7 L352.1,453.2 L355.1,454.7 L358.1,456.2 L361.1,457.7 L364.1,459.1 L367.1,460.5 L370.1,461.9 L373.1,463.3 L376.1,464.7 L379.1,466.1 L382.1,467.5 L385.1,468.9 L388.1,470.3 L391.1,471.6 L394.1,473.0 L397.1,474.4 L400.1,475.8 L403.1,477.2 L406.1,478.5 L409.2,479.9 L412.2,481.3 L415.2,482.7 L418.2,484.1 L421.2,485.5 L424.2,486.9 L427.2,488.4 L430.2,489.8 L433.2,491.3 L436.2,492.7 L439.2,494.2 L442.2,495.7 L445.2,497.2 L448.2,498.8 L451.2,500.3 L454.2,501.9 L457.2,503.5 L460.2,505.1 L463.2,506.7 L466.2,508.3 L469.2,510.0 L472.2,511.6 L475.2,513.3 L478.2,514.9 L481.2,516.6 L484.2,518.3 L487.2,520.0 L490.2,521.6 L493.2,523.3 L496.2,524.9 L499.2,526.6 L502.2,528.2 L505.2,529.8 L508.2,531.5 L511.2,533.0 L514.2,534.6 L517.2,536.2 L520.2,537.7 L523.2,539.2 L526.2,540.7 L529.2,542.1 L532.2,543.5 L535.2,544.9 L538.2,546.2 L541.2,547.6 L544.2,548.8 L547.2,550.1 L550.2,551.3 L553.2,552.5 L556.2,553.6 L559.2,554.8 L562.2,555.9 L565.2,556.9 L568.2,558.0 L571.2,559.0 L574.2,560.0 L577.2,560.9 L580.2,561.8 L583.2,562.8 L586.2,563.6 L589.3,564.5 L592.3,565.3 L595.3,566.1 L598.3,566.9 L601.3,567.7 L604.3,568.4 L607.3,569.2 L610.3,569.9 L613.3,570.5 L616.3,571.2 L619.3,571.9 L622.3,572.5 L625.3,573.1 L628.3,573.7 L631.3,574.3 L634.3,575.0 L637.3,575.6 L640.3,576.2 L643.3,576.8 L646.3,577.4 L649.3,578.0 L652.3,578.6 L655.3,579.2 L658.3,579.9 L661.3,580.6 L664.3,581.3 L667.3,582.0 L670.3,582.7 L673.3,583.5 L676.3,584.2 L679.3,585.1" stroke="#007010"/>
<path d="M136.0,209.2 L139.0,212.3 L142.0,215.8 L145.0,219.5 L148.0,223.5 L151.0,227.6 L154.0,231.7 L157.0,235.8 L160.0,239.9 L163.0,243.8 L166.0,247.5 L169.0,251.2 L172.0,254.8 L175.0,258.4 L178.0,261.9 L181.0,265.4 L184.0,269.0 L187.0,272.6 L190.0,276.3 L193.0,280.0 L196.0,283.8 L199.0,287.7 L202.0,291.7 L205.0,295.6 L208.0,299.6 L211.0,303.7 L214.0,307.7 L217.0,311.7 L220.0,315.7 L223.0,319.6 L226.0,323.6 L229.1,327.4 L232.1,331.2 L235.1,334.8 L238.1,338.3 L241.1,341.7 L244.1,344.9 L247.1,348.1 L250.1,351.3 L253.1,354.4 L256.1,357.4 L259.1,360.4 L262.1,363.3 L265.1,366.1 L268.1,368.9 L271.1,371.7 L274.1,374.3 L277.1,377.0 L280.1,379.5 L283.1,382.0 L286.1,384.5 L289.1,386.9 L292.1,389.2 L295.1,391.4 L298.1,393.6 L301.1,395.8 L304.1,397.9 L307.1,399.9 L310.1,401.8 L313.1,403.7 L316.1,405.6 L319.1,407.3 L322.1,409.1 L325.1,410.7 L328.1,412.3 L331.1,413.9 L334.1,415.4 L337.1,416.8 L340.1,418.2 L343.1,419.6 L346.1,421.0 L349.1,422.3 L352.1,423.6 L355.1,424.9 L358.1,426.2 L361.1,427.4 L364.1,428.7 L367.1,429.9 L370.1,431.2 L373.1,432.4 L376.1,433.7 L379.1,435.0 L382.1,436.3 L385.1,437.6 L388.1,439.0 L391.1,440.3 L394.1,441.7 L397.1,443.2 L400.1,444.6 L403.1,446.1 L406.1,447.6 L409.2,449.1 L412.2,450.6 L415.2,452.2 L418.2,453.7 L421.2,455.3 L424.2,456.9 L427.2,458.5 L430.2,460.2 L433.2,461.8 L436.2,463.4 L439.2,465.1 L442.2,466.7 L445.2,468.4 L448.2,470.1 L451.2,471.7 L454.2,473.4 L457.2,475.1 L460.2,476.8 L463.2,478.4 L466.2,480.1 L469.2,481.8 L472.2,483.4 L475.2,485.1 L478.2,486.7 L481.2,488.4 L484.2,490.0 L487.2,491.6 L490.2,493.2 L493.2,494.8 L496.2,496.4 L499.2,498.0 L502.2,499.5 L505.2,501.0 L508.2,502.6 L511.2,504.0 L514.2,505.5 L517.2,506.9 L520.2,508.4 L523.2,509.8 L526.2,511.1 L529.2,512.5 L532.2,513.8 L535.2,515.1 L538.2,516.3 L541.2,517.5 L544.2,518.7 L547.2,519.9 L550.2,521.0 L553.2,522.1 L556.2,523.2 L559.2,524.2 L562.2,525.3 L565.2,526.3 L568.2,527.2 L571.2,528.2 L574.2,529.1 L577.2,530.0 L580.2,530.9 L583.2,531.7 L586.2,532.6 L589.3,533.4 L592.3,534.2 L595.3,534.9 L598.3,535.7 L601.3,536.4 L604.3,537.1 L607.3,537.8 L610.3,538.5 L613.3,539.1 L616.3,539.7 L619.3,540.4 L622.3,541.0 L625.3,541.5 L628.3,542.1 L631.3,542.7 L634.3,543.2 L637.3,543.7 L640.3,544.2 L643.3,544.7 L646.3,545.2 L649.3,545.7 L652.3,546.1 L655.3,546.6 L658.3,547.0 L661.3,547.4 L664.3,547.8 L667.3,548.2 L670.3,548.6 L673.3,549.0 L676.3,549.4 L679.3,549.7" stroke="#12b474"/>
<path d="M136.0,176.5 L139.0,179.9 L142.0,183.5 L145.0,187.0 L148.0,190.7 L151.0,194.4 L154.0,198.2 L157.0,202.0 L160.0,205.9 L163.0,209.8 L166.0,213.8 L169.0,217.7 L172.0,221.8 L175.0,225.8 L178.0,229.9 L181.0,233.9 L184.0,238.0 L187.0,242.1 L190.0,246.2 L193.0,250.3 L196.0,254.4 L199.0,258.4 L202.0,262.5 L205.0,266.5 L208.0,270.6 L211.0,274.5 L214.0,278.5 L217.0,282.4 L220.0,286.2 L223.0,290.1 L226.0,293.8 L229.1,297.5 L232.1,301.2 L235.1,304.7 L238.1,308.3 L241.1,311.7 L244.1,315.1 L247.1,318.4 L250.1,321.6 L253.1,324.7 L256.1,327.8 L259.1,330.8 L262.1,333.7 L265.1,336.5 L268.1,339.2 L271.1,341.9 L274.1,344.5 L277.1,346.9 L280.1,349.4 L283.1,351.7 L286.1,354.0 L289.1,356.2 L292.1,358.3 L295.1,360.4 L298.1,362.4 L301.1,364.4 L304.1,366.4 L307.1,368.3 L310.1,370.2 L313.1,372.1 L316.1,373.9 L319.1,375.7 L322.1,377.5 L325.1,379.3 L328.1,381.0 L331.1,382.7 L334.1,384.4 L337.1,386.1 L340.1,387.7 L343.1,389.4 L346.1,391.0 L349.1,392.6 L352.1,394.1 L355.1,395.7 L358.1,397.2 L361.1,398.7 L364.1,400.2 L367.1,401.7 L370.1,403.2 L373.1,404.6 L376.1,406.0 L379.1,407.4 L382.1,408.8 L385.1,410.2 L388.1,411.6 L391.1,413.0 L394.1,414.3 L397.1,415.7 L400.1,417.1 L403.1,418.4 L406.1,419.8 L409.2,421.1 L412.2,422.5 L415.2,423.8 L418.2,425.2 L421.2,426.6 L424.2,428.0 L427.2,429.4 L430.2,430.8 L433.2,432.3 L436.2,433.8 L439.2,435.3 L442.2,436.9 L445.2,438.4 L448.2,440.1 L451.2,441.7 L454.2,443.4 L457.2,445.1 L460.2,446.8 L463.2,448.5 L466.2,450.2 L469.2,451.9 L472.2,453.7 L475.2,455.4 L478.2,457.1 L481.2,458.9 L484.2,460.6 L487.2,462.4 L490.2,464.1 L493.2,465.8 L496.2,467.5 L499.2,469.1 L502.2,470.8 L505.2,472.4 L508.2,474.0 L511.2,475.6 L514.2,477.1 L517.2,478.6 L520.2,480.1 L523.2,481.5 L526.2,482.9 L529.2,484.2 L532.2,485.6 L535.2,486.8 L538.2,488.1 L541.2,489.3 L544.2,490.5 L547.2,491.6 L550.2,492.7 L553.2,493.8 L556.2,494.9 L559.2,495.9 L562.2,496.9 L565.2,497.9 L568.2,498.9 L571.2,499.8 L574.2,500.7 L577.2,501.6 L580.2,502.5 L583.2,503.4 L586.2,504.2 L589.3,505.0 L592.3,505.9 L595.3,506.7 L598.3,507.5 L601.3,508.3 L604.3,509.0 L607.3,509.8 L610.3,510.5 L613.3,511.3 L616.3,512.0 L619.3,512.7 L622.3,513.4 L625.3,514.1 L628.3,514.7 L631.3,515.4 L634.3,516.0 L637.3,516.6 L640.3,517.1 L643.3,517.7 L646.3,518.2 L649.3,518.7 L652.3,519.2 L655.3,519.6 L658.3,520.1 L661.3,520.4 L664.3,520.8 L667.3,521.1 L670.3,521.4 L673.3,521.7 L676.3,521.9 L679.3,522.1" stroke="#ffb21e"/>
<path d="M136.0,138.3 L139.0,142.9 L142.0,147.3 L145.0,151.5 L148.0,155.5 L151.0,159.5 L154.0,163.4 L157.0,167.2 L160.0,171.1 L163.0,175.1 L166.0,179.3 L169.0,183.5 L172.0,187.9 L175.0,192.3 L178.0,196.7 L181.0,201.1 L184.0,205.4 L187.0,209.8 L190.0,214.1 L193.0,218.3 L196.0,222.5 L199.0,226.6 L202.0,230.7 L205.0,234.7 L208.0,238.6 L211.0,242.5 L214.0,246.3 L217.0,250.0 L220.0,253.7 L223.0,257.3 L226.0,260.8 L229.1,264.3 L232.1,267.8 L235.1,271.1 L238.1,274.4 L241.1,277.7 L244.1,280.9 L247.1,284.0 L250.1,287.1 L253.1,290.2 L256.1,293.1 L259.1,296.1 L262.1,298.9 L265.1,301.7 L268.1,304.5 L271.1,307.2 L274.1,309.9 L277.1,312.5 L280.1,315.0 L283.1,317.5 L286.1,319.9 L289.1,322.3 L292.1,324.6 L295.1,326.9 L298.1,329.1 L301.1,331.2 L304.1,333.3 L307.1,335.4 L310.1,337.3 L313.1,339.2 L316.1,341.1 L319.1,342.9 L322.1,344.6 L325.1,346.3 L328.1,348.0 L331.1,349.6 L334.1,351.1 L337.1,352.6 L340.1,354.1 L343.1,355.5 L346.1,356.9 L349.1,358.3 L352.1,359.7 L355.1,361.0 L358.1,362.4 L361.1,363.7 L364.1,365.0 L367.1,366.3 L370.1,367.6 L373.1,368.9 L376.1,370.2 L379.1,371.4 L382.1,372.7 L385.1,374.0 L388.1,375.3 L391.1,376.6 L394.1,377.9 L397.1,379.2 L400.1,380.5 L403.1,381.8 L406.1,383.2 L409.2,384.5 L412.2,385.9 L415.2,387.3 L418.2,388.7 L421.2,390.1 L424.2,391.6 L427.2,393.0 L430.2,394.5 L433.2,396.0 L436.2,397.6 L439.2,399.1 L442.2,400.7 L445.2,402.3 L448.2,403.9 L451.2,405.6 L454.2,407.2 L457.2,408.9 L460.2,410.5 L463.2,412.2 L466.2,413.9 L469.2,415.6 L472.2,417.3 L475.2,418.9 L478.2,420.6 L481.2,422.3 L484.2,424.0 L487.2,425.6 L490.2,427.3 L493.2,428.9 L496.2,430.5 L499.2,432.2 L502.2,433.8 L505.2,435.3 L508.2,436.9 L511.2,438.4 L514.2,439.9 L517.2,441.4 L520.2,442.9 L523.2,444.3 L526.2,445.7 L529.2,447.1 L532.2,448.5 L535.2,449.9 L538.2,451.2 L541.2,452.5 L544.2,453.8 L547.2,455.1 L550.2,456.3 L553.2,457.5 L556.2,458.7 L559.2,459.9 L562.2,461.1 L565.2,462.2 L568.2,463.3 L571.2,464.4 L574.2,465.5 L577.2,466.5 L580.2,467.5 L583.2,468.5 L586.2,469.5 L589.3,470.5 L592.3,471.4 L595.3,472.3 L598.3,473.2 L601.3,474.1 L604.3,474.9 L607.3,475.8 L610.3,476.6 L613.3,477.4 L616.3,478.1 L619.3,478.9 L622.3,479.6 L625.3,480.3 L628.3,480.9 L631.3,481.6 L634.3,482.2 L637.3,482.8 L640.3,483.4 L643.3,484.0 L646.3,484.5 L649.3,485.0 L652.3,485.5 L655.3,486.0 L658.3,486.5 L661.3,486.9 L664.3,487.3 L667.3,487.7 L670.3,488.1 L673.3,488.4 L676.3,488.8 L679.3,489.1" stroke="#ff7f0a"/>
<path d="M136.0,102.4 L139.0,110.0 L142.0,119.0 L145.0,125.7 L148.0,129.5 L151.0,132.6 L154.0,136.2 L157.0,140.1 L160.0,144.0 L163.0,148.0 L166.0,151.9 L169.0,155.8 L172.0,159.7 L175.0,163.6 L178.0,167.6 L181.0,171.5 L184.0,175.4 L187.0,179.3 L190.0,183.2 L193.0,187.2 L196.0,191.1 L199.0,195.0 L202.0,198.8 L205.0,202.7 L208.0,206.5 L211.0,210.4 L214.0,214.2 L217.0,217.9 L220.0,221.7 L223.0,225.4 L226.0,229.0 L229.1,232.7 L232.1,236.2 L235.1,239.8 L238.1,243.3 L241.1,246.7 L244.1,250.1 L247.1,253.4 L250.1,256.7 L253.1,259.9 L256.1,263.1 L259.1,266.2 L262.1,269.2 L265.1,272.2 L268.1,275.1 L271.1,277.9 L274.1,280.7 L277.1,283.4 L280.1,286.0 L283.1,288.6 L286.1,291.0 L289.1,293.5 L292.1,295.8 L295.1,298.1 L298.1,300.3 L301.1,302.4 L304.1,304.4 L307.1,306.4 L310.1,308.3 L313.1,310.1 L316.1,311.8 L319.1,313.5 L322.1,315.1 L325.1,316.7 L328.1,318.2 L331.1,319.7 L334.1,321.1 L337.1,322.4 L340.1,323.8 L343.1,325.1 L346.1,326.4 L349.1,327.6 L352.1,328.9 L355.1,330.1 L358.1,331.3 L361.1,332.5 L364.1,333.7 L367.1,335.0 L370.1,336.2 L373.1,337.4 L376.1,338.6 L379.1,339.9 L382.1,341.1 L385.1,342.4 L388.1,343.6 L391.1,344.9 L394.1,346.2 L397.1,347.5 L400.1,348.8 L403.1,350.1 L406.1,351.4 L409.2,352.8 L412.2,354.2 L415.2,355.6 L418.2,357.0 L421.2,358.5 L424.2,359.9 L427.2,361.4 L430.2,363.0 L433.2,364.5 L436.2,366.1 L439.2,367.7 L442.2,369.3 L445.2,371.0 L448.2,372.6 L451.2,374.3 L454.2,376.0 L457.2,377.7 L460.2,379.4 L463.2,381.2 L466.2,382.9 L469.2,384.6 L472.2,386.4 L475.2,388.1 L478.2,389.8 L481.2,391.6 L484.2,393.3 L487.2,395.0 L490.2,396.7 L493.2,398.4 L496.2,400.1 L499.2,401.8 L502.2,403.4 L505.2,405.1 L508.2,406.7 L511.2,408.3 L514.2,409.8 L517.2,411.4 L520.2,412.9 L523.2,414.4 L526.2,415.8 L529.2,417.2 L532.2,418.6 L535.2,420.0 L538.2,421.3 L541.2,422.6 L544.2,423.9 L547.2,425.1 L550.2,426.3 L553.2,427.5 L556.2,428.7 L559.2,429.8 L562.2,430.9 L565.2,432.0 L568.2,433.1 L571.2,434.1 L574.2,435.2 L577.2,436.2 L580.2,437.2 L583.2,438.1 L586.2,439.1 L589.3,440.0 L592.3,440.9 L595.3,441.8 L598.3,442.7 L601.3,443.5 L604.3,444.3 L607.3,445.2 L610.3,446.0 L613.3,446.7 L616.3,447.5 L619.3,448.3 L622.3,449.0 L625.3,449.7 L628.3,450.5 L631.3,451.2 L634.3,451.9 L637.3,452.5 L640.3,453.2 L643.3,453.9 L646.3,454.5 L649.3,455.2 L652.3,455.8 L655.3,456.4 L658.3,457.1 L661.3,457.7 L664.3,458.3 L667.3,458.9 L670.3,459.5 L673.3,460.1 L676.3,460.7 L679.3,461.3" stroke="#c80000"/>
<path d="M136.0,78.6 L139.0,80.8 L142.0,83.4 L145.0,86.4 L148.0,89.6 L151.0,93.1 L154.0,96.7 L157.0,100.4 L160.0,104.2 L163.0,108.0 L166.0,111.6 L169.0,115.2 L172.0,118.7 L175.0,122.2 L178.0,125.8 L181.0,129.3 L184.0,133.0 L187.0,136.7 L190.0,140.5 L193.0,144.4 L196.0,148.4 L199.0,152.4 L202.0,156.4 L205.0,160.5 L208.0,164.6 L211.0,168.7 L214.0,172.8 L217.0,176.8 L220.0,180.9 L223.0,184.9 L226.0,188.9 L229.0,192.8 L232.0,196.6 L235.0,200.4 L238.0,204.2 L241.0,207.8 L244.0,211.4 L247.0,214.9 L250.0,218.4 L253.0,221.7 L256.0,225.0 L259.0,228.1 L262.0,231.2 L265.0,234.2 L268.0,237.1 L271.0,239.9 L274.0,242.6 L277.0,245.2 L280.0,247.8 L283.0,250.2 L286.0,252.6 L289.0,255.0 L292.0,257.2 L295.0,259.4 L298.0,261.5 L301.0,263.6 L304.0,265.6 L307.0,267.5 L310.0,269.4 L313.0,271.2 L316.0,273.0 L319.0,274.8 L322.0,276.5 L325.0,278.1 L328.0,279.8 L331.0,281.4 L334.0,282.9 L337.0,284.5 L340.0,286.0 L343.0,287.5 L346.0,289.0 L349.0,290.4 L352.0,291.9 L355.0,293.4 L358.0,294.8 L361.0,296.3 L364.0,297.7 L367.0,299.2 L370.0,300.6 L373.0,302.1 L376.0,303.6 L379.0,305.1 L382.0,306.7 L385.0,308.2 L388.0,309.8 L391.0,311.4 L394.0,313.0 L397.0,314.7 L400.0,316.3 L403.0,318.0 L406.0,319.7 L409.0,321.5 L412.0,323.2 L415.0,324.9 L418.0,326.7 L421.0,328.5 L424.0,330.2 L427.0,332.0 L430.0,333.8 L433.0,335.6 L436.0,337.4 L439.0,339.3 L442.0,341.1 L445.0,342.9 L448.0,344.7 L451.0,346.6 L454.0,348.4 L457.0,350.2 L460.0,352.1 L463.0,353.9 L466.0,355.7 L469.0,357.5 L472.0,359.3 L475.0,361.1 L478.0,362.9 L481.0,364.7 L484.0,366.5 L487.0,368.2 L490.0,370.0 L493.0,371.7 L496.0,373.4 L499.0,375.1 L502.0,376.8 L505.0,378.5 L508.0,380.1 L511.0,381.7 L514.0,383.3 L517.0,384.9 L520.0,386.5 L523.0,388.0 L526.0,389.5 L529.0,391.0 L532.0,392.5 L535.0,393.9 L538.0,395.3 L541.0,396.7 L544.0,398.0 L547.0,399.3 L550.0,400.6 L553.0,401.8 L556.0,403.0 L559.0,404.2 L562.0,405.3 L565.0,406.4 L568.0,407.4 L571.0,408.4 L574.0,409.4 L577.0,410.3 L580.0,411.2 L583.0,412.1 L586.0,413.0 L589.0,413.8 L592.0,414.6 L595.0,415.4 L598.0,416.2 L601.0,416.9 L604.0,417.6 L607.0,418.3 L610.0,419.0 L613.0,419.6 L616.0,420.3 L619.0,420.9 L622.0,421.5 L625.0,422.1 L628.0,422.7 L631.0,423.3 L634.0,423.9 L637.0,424.5 L640.0,425.0 L643.0,425.6 L646.0,426.2 L649.0,426.7 L652.0,427.3 L655.0,427.9 L658.0,428.5 L661.0,429.0 L664.0,429.6 L667.0,430.2 L670.0,430.8 L673.0,431.4 L676.0,432.0 L679.0,432.7" stroke="#800000"/>
</g>
<g clip-path="url(#cb)" fill="none" stroke-linecap="round" stroke-linejoin="round" stroke-width="6.2">
<path d="M802.0,496.2 L805.0,496.7 L808.0,497.3 L811.0,498.1 L814.0,498.9 L817.1,499.9 L820.1,500.9 L823.1,502.1 L826.1,503.3 L829.1,504.6 L832.1,506.1 L835.1,507.6 L838.1,509.2 L841.2,510.8 L844.2,512.6 L847.2,514.4 L850.2,516.3 L853.2,518.2 L856.2,520.3 L859.2,522.4 L862.2,524.5 L865.3,526.7 L868.3,529.0 L871.3,531.3 L874.3,533.6 L877.3,536.0 L880.3,538.5 L883.3,541.0 L886.4,543.5 L889.4,546.1 L892.4,548.6 L895.4,551.3 L898.4,553.9 L901.4,556.6 L904.4,559.2 L907.4,561.9 L910.5,564.6 L913.5,567.4 L916.5,570.1 L919.5,572.8 L922.5,575.5 L925.5,578.3 L928.5,581.0 L931.5,583.7 L934.6,586.4 L937.6,589.1 L940.6,591.8 L943.6,594.5 L946.6,597.2 L949.6,599.8 L952.6,602.4 L955.6,605.0 L958.7,607.6 L961.7,610.2 L964.7,612.7 L967.7,615.2 L970.7,617.7 L973.7,620.2 L976.7,622.6 L979.7,625.0 L982.8,627.3 L985.8,629.7 L988.8,631.9 L991.8,634.2 L994.8,636.4 L997.8,638.6 L1000.8,640.7 L1003.8,642.8 L1006.9,644.9 L1009.9,646.9 L1012.9,648.9 L1015.9,650.9 L1018.9,652.9 L1021.9,654.8 L1024.9,656.6 L1027.9,658.5 L1031.0,660.3 L1034.0,662.1 L1037.0,663.8 L1040.0,665.5 L1043.0,667.2 L1046.0,668.9 L1049.0,670.5 L1052.0,672.1 L1055.0,673.7 L1058.1,675.2 L1061.1,676.7 L1064.1,678.2 L1067.1,679.7 L1070.1,681.1 L1073.1,682.6 L1076.1,684.0 L1079.2,685.3 L1082.2,686.7 L1085.2,688.0 L1088.2,689.3 L1091.2,690.6 L1094.2,691.9 L1097.2,693.2 L1100.2,694.5 L1103.2,695.7 L1106.3,696.9 L1109.3,698.2 L1112.3,699.4 L1115.3,700.6 L1118.3,701.7 L1121.3,702.9 L1124.3,704.1 L1127.4,705.3 L1130.4,706.4 L1133.4,707.6 L1136.4,708.7 L1139.4,709.9 L1142.4,711.0 L1145.4,712.1 L1148.4,713.2 L1151.5,714.3 L1154.5,715.4 L1157.5,716.5 L1160.5,717.6 L1163.5,718.6 L1166.5,719.7 L1169.5,720.8 L1172.5,721.8 L1175.6,722.8 L1178.6,723.8 L1181.6,724.8 L1184.6,725.8 L1187.6,726.8 L1190.6,727.8 L1193.6,728.8 L1196.6,729.7 L1199.7,730.7 L1202.7,731.6 L1205.7,732.5 L1208.7,733.4 L1211.7,734.3 L1214.7,735.2 L1217.7,736.1 L1220.7,736.9 L1223.8,737.8 L1226.8,738.6 L1229.8,739.4 L1232.8,740.2 L1235.8,741.0 L1238.8,741.8 L1241.8,742.6 L1244.8,743.3 L1247.9,744.1 L1250.9,744.8 L1253.9,745.5 L1256.9,746.2 L1259.9,746.9 L1262.9,747.6 L1265.9,748.3 L1268.9,748.9 L1272.0,749.6 L1275.0,750.2 L1278.0,750.8 L1281.0,751.4 L1284.0,752.0 L1287.0,752.6 L1290.0,753.2 L1293.0,753.7 L1296.1,754.3 L1299.1,754.8 L1302.1,755.3 L1305.1,755.8 L1308.1,756.3 L1311.1,756.7 L1314.1,757.2 L1317.1,757.6 L1320.2,758.1 L1323.2,758.5 L1326.2,758.9 L1329.2,759.3 L1332.2,759.6 L1335.2,760.0 L1338.2,760.3 L1341.2,760.7 L1344.2,761.0 L1347.3,761.3 L1350.3,761.5 L1353.3,761.8 L1356.3,762.1 L1359.3,762.3 L1362.3,762.5 L1365.3,762.7 L1368.4,762.9 L1371.4,763.1 L1374.4,763.3 L1377.4,763.4 L1380.4,763.6" stroke="#fa0a6e"/>
<path d="M802.0,400.4 L805.0,400.7 L808.0,401.1 L811.0,401.7 L814.0,402.5 L817.1,403.5 L820.1,404.6 L823.1,405.9 L826.1,407.4 L829.1,409.0 L832.1,410.7 L835.1,412.5 L838.1,414.5 L841.2,416.6 L844.2,418.7 L847.2,421.0 L850.2,423.4 L853.2,425.8 L856.2,428.4 L859.2,431.0 L862.2,433.6 L865.3,436.3 L868.3,439.1 L871.3,441.9 L874.3,444.7 L877.3,447.6 L880.3,450.5 L883.3,453.5 L886.4,456.4 L889.4,459.4 L892.4,462.4 L895.4,465.5 L898.4,468.5 L901.4,471.6 L904.4,474.7 L907.4,477.8 L910.5,480.9 L913.5,483.9 L916.5,487.0 L919.5,490.0 L922.5,493.0 L925.5,496.0 L928.5,498.9 L931.5,501.8 L934.6,504.6 L937.6,507.4 L940.6,510.1 L943.6,512.8 L946.6,515.4 L949.6,518.1 L952.6,520.6 L955.6,523.1 L958.7,525.6 L961.7,528.1 L964.7,530.5 L967.7,532.8 L970.7,535.2 L973.7,537.5 L976.7,539.7 L979.7,542.0 L982.8,544.1 L985.8,546.3 L988.8,548.4 L991.8,550.5 L994.8,552.6 L997.8,554.6 L1000.8,556.6 L1003.8,558.6 L1006.9,560.5 L1009.9,562.4 L1012.9,564.3 L1015.9,566.1 L1018.9,568.0 L1021.9,569.8 L1024.9,571.5 L1027.9,573.3 L1031.0,575.0 L1034.0,576.7 L1037.0,578.4 L1040.0,580.1 L1043.0,581.7 L1046.0,583.3 L1049.0,584.9 L1052.0,586.5 L1055.0,588.1 L1058.1,589.6 L1061.1,591.1 L1064.1,592.7 L1067.1,594.2 L1070.1,595.6 L1073.1,597.1 L1076.1,598.6 L1079.2,600.0 L1082.2,601.4 L1085.2,602.8 L1088.2,604.2 L1091.2,605.6 L1094.2,607.0 L1097.2,608.4 L1100.2,609.7 L1103.2,611.0 L1106.3,612.4 L1109.3,613.7 L1112.3,615.0 L1115.3,616.3 L1118.3,617.5 L1121.3,618.8 L1124.3,620.0 L1127.4,621.3 L1130.4,622.5 L1133.4,623.7 L1136.4,624.9 L1139.4,626.1 L1142.4,627.3 L1145.4,628.4 L1148.4,629.6 L1151.5,630.7 L1154.5,631.9 L1157.5,633.0 L1160.5,634.1 L1163.5,635.2 L1166.5,636.3 L1169.5,637.4 L1172.5,638.5 L1175.6,639.5 L1178.6,640.6 L1181.6,641.6 L1184.6,642.6 L1187.6,643.7 L1190.6,644.7 L1193.6,645.7 L1196.6,646.7 L1199.7,647.7 L1202.7,648.7 L1205.7,649.6 L1208.7,650.6 L1211.7,651.6 L1214.7,652.5 L1217.7,653.4 L1220.7,654.4 L1223.8,655.3 L1226.8,656.2 L1229.8,657.1 L1232.8,658.0 L1235.8,658.8 L1238.8,659.7 L1241.8,660.5 L1244.8,661.4 L1247.9,662.2 L1250.9,663.0 L1253.9,663.8 L1256.9,664.6 L1259.9,665.3 L1262.9,666.1 L1265.9,666.8 L1268.9,667.5 L1272.0,668.2 L1275.0,668.9 L1278.0,669.6 L1281.0,670.2 L1284.0,670.9 L1287.0,671.5 L1290.0,672.1 L1293.0,672.6 L1296.1,673.2 L1299.1,673.7 L1302.1,674.2 L1305.1,674.7 L1308.1,675.2 L1311.1,675.7 L1314.1,676.1 L1317.1,676.5 L1320.2,676.9 L1323.2,677.2 L1326.2,677.6 L1329.2,677.9 L1332.2,678.2 L1335.2,678.4 L1338.2,678.7 L1341.2,678.9 L1344.2,679.1 L1347.3,679.2 L1350.3,679.4 L1353.3,679.5 L1356.3,679.5 L1359.3,679.6 L1362.3,679.6 L1365.3,679.6 L1368.4,679.6 L1371.4,679.5 L1374.4,679.4 L1377.4,679.3 L1380.4,679.1" stroke="#6e0a78"/>
<path d="M802.0,308.0 L805.0,308.7 L808.0,309.5 L811.0,310.5 L814.0,311.7 L817.1,313.0 L820.1,314.4 L823.1,316.0 L826.1,317.7 L829.1,319.5 L832.1,321.5 L835.1,323.5 L838.1,325.7 L841.2,327.9 L844.2,330.3 L847.2,332.7 L850.2,335.3 L853.2,337.9 L856.2,340.5 L859.2,343.3 L862.2,346.1 L865.3,348.9 L868.3,351.8 L871.3,354.7 L874.3,357.7 L877.3,360.7 L880.3,363.8 L883.3,366.8 L886.4,369.9 L889.4,373.0 L892.4,376.2 L895.4,379.3 L898.4,382.4 L901.4,385.6 L904.4,388.7 L907.4,391.9 L910.5,395.0 L913.5,398.1 L916.5,401.2 L919.5,404.3 L922.5,407.3 L925.5,410.3 L928.5,413.3 L931.5,416.2 L934.6,419.1 L937.6,422.0 L940.6,424.8 L943.6,427.6 L946.6,430.3 L949.6,433.0 L952.6,435.6 L955.6,438.2 L958.7,440.8 L961.7,443.3 L964.7,445.8 L967.7,448.2 L970.7,450.6 L973.7,453.0 L976.7,455.3 L979.7,457.5 L982.8,459.7 L985.8,461.9 L988.8,464.0 L991.8,466.1 L994.8,468.2 L997.8,470.2 L1000.8,472.1 L1003.8,474.0 L1006.9,475.9 L1009.9,477.7 L1012.9,479.5 L1015.9,481.2 L1018.9,483.0 L1021.9,484.6 L1024.9,486.3 L1027.9,487.9 L1031.0,489.4 L1034.0,491.0 L1037.0,492.5 L1040.0,494.0 L1043.0,495.5 L1046.0,496.9 L1049.0,498.4 L1052.0,499.8 L1055.0,501.2 L1058.1,502.6 L1061.1,504.0 L1064.1,505.3 L1067.1,506.7 L1070.1,508.1 L1073.1,509.4 L1076.1,510.8 L1079.2,512.1 L1082.2,513.5 L1085.2,514.8 L1088.2,516.2 L1091.2,517.5 L1094.2,518.8 L1097.2,520.2 L1100.2,521.5 L1103.2,522.8 L1106.3,524.1 L1109.3,525.4 L1112.3,526.7 L1115.3,528.0 L1118.3,529.3 L1121.3,530.5 L1124.3,531.8 L1127.4,533.1 L1130.4,534.3 L1133.4,535.6 L1136.4,536.8 L1139.4,538.1 L1142.4,539.3 L1145.4,540.5 L1148.4,541.7 L1151.5,542.9 L1154.5,544.1 L1157.5,545.3 L1160.5,546.5 L1163.5,547.6 L1166.5,548.8 L1169.5,549.9 L1172.5,551.0 L1175.6,552.2 L1178.6,553.3 L1181.6,554.4 L1184.6,555.5 L1187.6,556.6 L1190.6,557.6 L1193.6,558.7 L1196.6,559.7 L1199.7,560.8 L1202.7,561.8 L1205.7,562.8 L1208.7,563.8 L1211.7,564.8 L1214.7,565.8 L1217.7,566.7 L1220.7,567.7 L1223.8,568.6 L1226.8,569.5 L1229.8,570.5 L1232.8,571.3 L1235.8,572.2 L1238.8,573.1 L1241.8,573.9 L1244.8,574.8 L1247.9,575.6 L1250.9,576.4 L1253.9,577.2 L1256.9,578.0 L1259.9,578.7 L1262.9,579.5 L1265.9,580.2 L1268.9,580.9 L1272.0,581.6 L1275.0,582.3 L1278.0,583.0 L1281.0,583.6 L1284.0,584.2 L1287.0,584.8 L1290.0,585.4 L1293.0,586.0 L1296.1,586.6 L1299.1,587.1 L1302.1,587.6 L1305.1,588.1 L1308.1,588.6 L1311.1,589.1 L1314.1,589.5 L1317.1,589.9 L1320.2,590.4 L1323.2,590.7 L1326.2,591.1 L1329.2,591.5 L1332.2,591.8 L1335.2,592.1 L1338.2,592.4 L1341.2,592.6 L1344.2,592.9 L1347.3,593.1 L1350.3,593.3 L1353.3,593.5 L1356.3,593.6 L1359.3,593.8 L1362.3,593.9 L1365.3,594.0 L1368.4,594.0 L1371.4,594.1 L1374.4,594.1 L1377.4,594.1 L1380.4,594.1" stroke="#00c0ff"/>
<path d="M802.0,221.3 L805.0,221.6 L808.0,222.2 L811.0,223.0 L814.0,224.0 L817.1,225.2 L820.1,226.6 L823.1,228.2 L826.1,229.9 L829.1,231.8 L832.1,233.9 L835.1,236.1 L838.1,238.4 L841.2,240.9 L844.2,243.5 L847.2,246.2 L850.2,249.0 L853.2,251.9 L856.2,254.9 L859.2,257.9 L862.2,261.0 L865.3,264.2 L868.3,267.4 L871.3,270.7 L874.3,273.9 L877.3,277.2 L880.3,280.6 L883.3,283.9 L886.4,287.3 L889.4,290.6 L892.4,294.0 L895.4,297.4 L898.4,300.7 L901.4,304.0 L904.4,307.3 L907.4,310.6 L910.5,313.9 L913.5,317.1 L916.5,320.2 L919.5,323.3 L922.5,326.4 L925.5,329.4 L928.5,332.3 L931.5,335.2 L934.6,338.0 L937.6,340.7 L940.6,343.4 L943.6,346.0 L946.6,348.5 L949.6,351.0 L952.6,353.4 L955.6,355.8 L958.7,358.1 L961.7,360.3 L964.7,362.5 L967.7,364.7 L970.7,366.8 L973.7,368.9 L976.7,370.9 L979.7,372.8 L982.8,374.8 L985.8,376.6 L988.8,378.5 L991.8,380.3 L994.8,382.1 L997.8,383.8 L1000.8,385.5 L1003.8,387.2 L1006.9,388.8 L1009.9,390.4 L1012.9,392.0 L1015.9,393.5 L1018.9,395.1 L1021.9,396.6 L1024.9,398.0 L1027.9,399.5 L1031.0,400.9 L1034.0,402.4 L1037.0,403.8 L1040.0,405.2 L1043.0,406.5 L1046.0,407.9 L1049.0,409.3 L1052.0,410.6 L1055.0,412.0 L1058.1,413.3 L1061.1,414.6 L1064.1,416.0 L1067.1,417.3 L1070.1,418.6 L1073.1,419.9 L1076.1,421.3 L1079.2,422.6 L1082.2,423.9 L1085.2,425.2 L1088.2,426.5 L1091.2,427.9 L1094.2,429.2 L1097.2,430.5 L1100.2,431.8 L1103.2,433.2 L1106.3,434.5 L1109.3,435.8 L1112.3,437.2 L1115.3,438.5 L1118.3,439.9 L1121.3,441.3 L1124.3,442.6 L1127.4,444.0 L1130.4,445.4 L1133.4,446.8 L1136.4,448.2 L1139.4,449.6 L1142.4,451.0 L1145.4,452.4 L1148.4,453.8 L1151.5,455.2 L1154.5,456.6 L1157.5,458.0 L1160.5,459.3 L1163.5,460.7 L1166.5,462.1 L1169.5,463.5 L1172.5,464.8 L1175.6,466.1 L1178.6,467.5 L1181.6,468.8 L1184.6,470.0 L1187.6,471.3 L1190.6,472.6 L1193.6,473.8 L1196.6,475.0 L1199.7,476.2 L1202.7,477.3 L1205.7,478.4 L1208.7,479.5 L1211.7,480.6 L1214.7,481.7 L1217.7,482.7 L1220.7,483.7 L1223.8,484.7 L1226.8,485.7 L1229.8,486.6 L1232.8,487.5 L1235.8,488.4 L1238.8,489.3 L1241.8,490.2 L1244.8,491.0 L1247.9,491.8 L1250.9,492.6 L1253.9,493.4 L1256.9,494.1 L1259.9,494.9 L1262.9,495.6 L1265.9,496.3 L1268.9,496.9 L1272.0,497.6 L1275.0,498.2 L1278.0,498.8 L1281.0,499.4 L1284.0,500.0 L1287.0,500.5 L1290.0,501.1 L1293.0,501.6 L1296.1,502.1 L1299.1,502.6 L1302.1,503.1 L1305.1,503.5 L1308.1,503.9 L1311.1,504.3 L1314.1,504.7 L1317.1,505.1 L1320.2,505.5 L1323.2,505.8 L1326.2,506.2 L1329.2,506.5 L1332.2,506.8 L1335.2,507.0 L1338.2,507.3 L1341.2,507.6 L1344.2,507.8 L1347.3,508.0 L1350.3,508.2 L1353.3,508.4 L1356.3,508.6 L1359.3,508.8 L1362.3,508.9 L1365.3,509.0 L1368.4,509.2 L1371.4,509.3 L1374.4,509.4 L1377.4,509.4 L1380.4,509.5" stroke="#ffb21e"/>
<path d="M802.0,136.2 L805.0,136.4 L808.0,136.8 L811.0,137.5 L814.0,138.4 L817.1,139.5 L820.1,140.7 L823.1,142.2 L826.1,143.9 L829.1,145.7 L832.1,147.7 L835.1,149.9 L838.1,152.2 L841.2,154.6 L844.2,157.2 L847.2,159.9 L850.2,162.7 L853.2,165.6 L856.2,168.6 L859.2,171.6 L862.2,174.8 L865.3,178.0 L868.3,181.3 L871.3,184.6 L874.3,188.0 L877.3,191.4 L880.3,194.8 L883.3,198.2 L886.4,201.7 L889.4,205.1 L892.4,208.5 L895.4,211.8 L898.4,215.2 L901.4,218.5 L904.4,221.7 L907.4,224.9 L910.5,228.0 L913.5,231.0 L916.5,234.0 L919.5,236.9 L922.5,239.7 L925.5,242.5 L928.5,245.2 L931.5,247.9 L934.6,250.5 L937.6,253.1 L940.6,255.7 L943.6,258.2 L946.6,260.7 L949.6,263.1 L952.6,265.5 L955.6,267.9 L958.7,270.2 L961.7,272.5 L964.7,274.8 L967.7,277.0 L970.7,279.2 L973.7,281.3 L976.7,283.4 L979.7,285.5 L982.8,287.5 L985.8,289.6 L988.8,291.5 L991.8,293.5 L994.8,295.4 L997.8,297.3 L1000.8,299.1 L1003.8,300.9 L1006.9,302.7 L1009.9,304.5 L1012.9,306.2 L1015.9,307.9 L1018.9,309.5 L1021.9,311.2 L1024.9,312.8 L1027.9,314.3 L1031.0,315.8 L1034.0,317.3 L1037.0,318.7 L1040.0,320.1 L1043.0,321.5 L1046.0,322.8 L1049.0,324.1 L1052.0,325.4 L1055.0,326.6 L1058.1,327.8 L1061.1,328.9 L1064.1,330.0 L1067.1,331.0 L1070.1,332.1 L1073.1,333.1 L1076.1,334.1 L1079.2,335.1 L1082.2,336.1 L1085.2,337.1 L1088.2,338.2 L1091.2,339.2 L1094.2,340.3 L1097.2,341.5 L1100.2,342.7 L1103.2,343.9 L1106.3,345.3 L1109.3,346.7 L1112.3,348.1 L1115.3,349.6 L1118.3,351.1 L1121.3,352.7 L1124.3,354.3 L1127.4,355.9 L1130.4,357.6 L1133.4,359.2 L1136.4,360.9 L1139.4,362.6 L1142.4,364.2 L1145.4,365.8 L1148.4,367.5 L1151.5,369.1 L1154.5,370.7 L1157.5,372.2 L1160.5,373.8 L1163.5,375.3 L1166.5,376.8 L1169.5,378.2 L1172.5,379.6 L1175.6,381.0 L1178.6,382.4 L1181.6,383.7 L1184.6,385.0 L1187.6,386.2 L1190.6,387.4 L1193.6,388.6 L1196.6,389.8 L1199.7,390.9 L1202.7,392.0 L1205.7,393.1 L1208.7,394.2 L1211.7,395.2 L1214.7,396.2 L1217.7,397.2 L1220.7,398.2 L1223.8,399.1 L1226.8,400.1 L1229.8,400.9 L1232.8,401.8 L1235.8,402.7 L1238.8,403.5 L1241.8,404.3 L1244.8,405.1 L1247.9,405.9 L1250.9,406.6 L1253.9,407.3 L1256.9,408.1 L1259.9,408.7 L1262.9,409.4 L1265.9,410.1 L1268.9,410.7 L1272.0,411.3 L1275.0,411.9 L1278.0,412.5 L1281.0,413.0 L1284.0,413.6 L1287.0,414.1 L1290.0,414.6 L1293.0,415.1 L1296.1,415.6 L1299.1,416.0 L1302.1,416.5 L1305.1,416.9 L1308.1,417.3 L1311.1,417.7 L1314.1,418.1 L1317.1,418.5 L1320.2,418.8 L1323.2,419.2 L1326.2,419.5 L1329.2,419.8 L1332.2,420.1 L1335.2,420.4 L1338.2,420.7 L1341.2,421.0 L1344.2,421.2 L1347.3,421.5 L1350.3,421.7 L1353.3,422.0 L1356.3,422.2 L1359.3,422.4 L1362.3,422.6 L1365.3,422.8 L1368.4,422.9 L1371.4,423.1 L1374.4,423.3 L1377.4,423.4 L1380.4,423.6" stroke="#800000"/>
</g>
<path d="M152.86,867.30v-6.50M152.86,6.40v6.50M180.52,867.30v-6.50M180.52,6.40v6.50M208.18,867.30v-6.50M208.18,6.40v6.50M235.84,867.30v-11.50M235.84,6.40v11.50M263.50,867.30v-6.50M263.50,6.40v6.50M291.16,867.30v-6.50M291.16,6.40v6.50M318.82,867.30v-6.50M318.82,6.40v6.50M346.48,867.30v-11.50M346.48,6.40v11.50M374.14,867.30v-6.50M374.14,6.40v6.50M401.80,867.30v-6.50M401.80,6.40v6.50M429.46,867.30v-6.50M429.46,6.40v6.50M457.12,867.30v-11.50M457.12,6.40v11.50M484.78,867.30v-6.50M484.78,6.40v6.50M512.44,867.30v-6.50M512.44,6.40v6.50M540.10,867.30v-6.50M540.10,6.40v6.50M567.76,867.30v-11.50M567.76,6.40v11.50M595.42,867.30v-6.50M595.42,6.40v6.50M623.08,867.30v-6.50M623.08,6.40v6.50M650.74,867.30v-6.50M650.74,6.40v6.50M125.20,18.40h7.00M678.40,18.40h-6.50M125.20,49.40h7.00M678.40,49.40h-6.50M125.20,80.40h7.00M678.40,80.40h-6.50M125.20,111.40h7.00M678.40,111.40h-6.50M125.20,142.40h7.00M678.40,142.40h-6.50M125.20,173.40h7.00M678.40,173.40h-6.50M125.20,204.40h7.00M678.40,204.40h-6.50M125.20,235.40h7.00M678.40,235.40h-6.50M125.20,266.40h7.00M678.40,266.40h-6.50M125.20,297.40h7.00M678.40,297.40h-6.50M125.20,328.40h7.00M678.40,328.40h-6.50M125.20,359.40h7.00M678.40,359.40h-6.50M125.20,390.40h7.00M678.40,390.40h-6.50M125.20,421.40h7.00M678.40,421.40h-6.50M125.20,452.40h7.00M678.40,452.40h-6.50M125.20,483.40h7.00M678.40,483.40h-6.50M125.20,514.40h7.00M678.40,514.40h-6.50M125.20,545.40h7.00M678.40,545.40h-6.50M125.20,576.40h7.00M678.40,576.40h-6.50M125.20,607.40h7.00M678.40,607.40h-6.50M125.20,638.40h7.00M678.40,638.40h-6.50M125.20,669.40h7.00M678.40,669.40h-6.50M125.20,700.40h7.00M678.40,700.40h-6.50M125.20,731.40h7.00M678.40,731.40h-6.50M125.20,762.40h7.00M678.40,762.40h-6.50M125.20,793.40h7.00M678.40,793.40h-6.50M125.20,824.40h7.00M678.40,824.40h-6.50M125.20,855.40h7.00M678.40,855.40h-6.50" stroke="#000" stroke-width="2.4" fill="none"/>
<rect x="125.20" y="6.40" width="553.20" height="860.90" stroke="#000" stroke-width="2.4" fill="none"/>
<path d="M826.22,867.60v-9.50M826.22,9.00v9.50M855.33,867.60v-9.50M855.33,9.00v9.50M884.45,867.60v-9.50M884.45,9.00v9.50M913.56,867.60v-17.00M913.56,9.00v17.00M942.68,867.60v-9.50M942.68,9.00v9.50M971.79,867.60v-9.50M971.79,9.00v9.50M1000.90,867.60v-9.50M1000.90,9.00v9.50M1030.02,867.60v-17.00M1030.02,9.00v17.00M1059.13,867.60v-9.50M1059.13,9.00v9.50M1088.25,867.60v-9.50M1088.25,9.00v9.50M1117.37,867.60v-9.50M1117.37,9.00v9.50M1146.48,867.60v-17.00M1146.48,9.00v17.00M1175.60,867.60v-9.50M1175.60,9.00v9.50M1204.71,867.60v-9.50M1204.71,9.00v9.50M1233.83,867.60v-9.50M1233.83,9.00v9.50M1262.94,867.60v-17.00M1262.94,9.00v17.00M1292.06,867.60v-9.50M1292.06,9.00v9.50M1321.17,867.60v-9.50M1321.17,9.00v9.50M1350.29,867.60v-9.50M1350.29,9.00v9.50M797.10,38.20h10.00M1379.40,38.20h-10.00M797.10,66.78h10.00M1379.40,66.78h-10.00M797.10,95.36h18.00M1379.40,95.36h-18.00M797.10,123.94h10.00M1379.40,123.94h-10.00M797.10,152.52h10.00M1379.40,152.52h-10.00M797.10,181.10h10.00M1379.40,181.10h-10.00M797.10,209.68h10.00M1379.40,209.68h-10.00M797.10,238.26h10.00M1379.40,238.26h-10.00M797.10,266.84h18.00M1379.40,266.84h-18.00M797.10,295.42h10.00M1379.40,295.42h-10.00M797.10,324.00h10.00M1379.40,324.00h-10.00M797.10,352.58h10.00M1379.40,352.58h-10.00M797.10,381.16h10.00M1379.40,381.16h-10.00M797.10,409.74h10.00M1379.40,409.74h-10.00M797.10,438.32h18.00M1379.40,438.32h-18.00M797.10,466.90h10.00M1379.40,466.90h-10.00M797.10,495.48h10.00M1379.40,495.48h-10.00M797.10,524.06h10.00M1379.40,524.06h-10.00M797.10,552.64h10.00M1379.40,552.64h-10.00M797.10,581.22h10.00M1379.40,581.22h-10.00M797.10,609.80h18.00M1379.40,609.80h-18.00M797.10,638.38h10.00M1379.40,638.38h-10.00M797.10,666.96h10.00M1379.40,666.96h-10.00M797.10,695.54h10.00M1379.40,695.54h-10.00M797.10,724.12h10.00M1379.40,724.12h-10.00M797.10,752.70h10.00M1379.40,752.70h-10.00M797.10,781.28h18.00M1379.40,781.28h-18.00M797.10,809.86h10.00M1379.40,809.86h-10.00M797.10,838.44h10.00M1379.40,838.44h-10.00" stroke="#000" stroke-width="2.9" fill="none"/>
<rect x="797.10" y="9.00" width="582.30" height="858.60" stroke="#000" stroke-width="2.9" fill="none"/>
<text x="125.20" y="948.50" font-size="82.00" fill="#000" font-family="Liberation Serif, serif" text-anchor="middle">0</text>
<text x="797.10" y="955.00" font-size="88.00" fill="#000" font-family="Liberation Serif, serif" text-anchor="middle">0</text>
<text x="235.84" y="948.50" font-size="82.00" fill="#000" font-family="Liberation Serif, serif" text-anchor="middle">2</text>
<text x="913.56" y="955.00" font-size="88.00" fill="#000" font-family="Liberation Serif, serif" text-anchor="middle">2</text>
<text x="346.48" y="948.50" font-size="82.00" fill="#000" font-family="Liberation Serif, serif" text-anchor="middle">4</text>
<text x="1030.02" y="955.00" font-size="88.00" fill="#000" font-family="Liberation Serif, serif" text-anchor="middle">4</text>
<text x="457.12" y="948.50" font-size="82.00" fill="#000" font-family="Liberation Serif, serif" text-anchor="middle">6</text>
<text x="1146.48" y="955.00" font-size="88.00" fill="#000" font-family="Liberation Serif, serif" text-anchor="middle">6</text>
<text x="567.76" y="948.50" font-size="82.00" fill="#000" font-family="Liberation Serif, serif" text-anchor="middle">8</text>
<text x="1262.94" y="955.00" font-size="88.00" fill="#000" font-family="Liberation Serif, serif" text-anchor="middle">8</text>
<text x="678.40" y="948.50" font-size="82.00" fill="#000" font-family="Liberation Serif, serif" text-anchor="middle">10</text>
<text x="1379.40" y="955.00" font-size="88.00" fill="#000" font-family="Liberation Serif, serif" text-anchor="middle">10</text>
<text x="97.90" y="1027.60" font-size="86.20" fill="#000" font-family="Liberation Serif, serif" >Applied Field (T)</text>
<text x="808.40" y="1027.80" font-size="88.00" fill="#000" font-family="Liberation Serif, serif" >Applied Field (T)</text>
<text transform="translate(67,784) rotate(-90)" font-size="87.2" font-family="Liberation Serif, serif"><tspan font-style="italic">dM/dH</tspan> (arb. units)</text>
<text transform="translate(1437.1,151.7) rotate(90)" font-size="85.7" font-family="Liberation Serif, serif"><tspan font-style="italic">dM/dH</tspan> (arb. units)</text>
<text x="134.00" y="73.00" font-size="65.00" fill="#000" font-family="Liberation Serif, serif" >(a)</text>
<text x="810.60" y="82.30" font-size="64.00" fill="#000" font-family="Liberation Serif, serif" >(b)</text>
<text x="128.80" y="858.30" font-size="72.00" fill="#000" font-family="Liberation Serif, serif" >Measurement</text>
<text x="809.50" y="852.30" font-size="72.00" fill="#000" font-family="Liberation Serif, serif" >Simulation</text>
<text x="236" y="66.1" font-size="45" font-family="Liberation Serif, serif"><tspan font-style="italic">T</tspan> (K):</text>
<text x="360.20" y="67.50" font-size="45.50" fill="#800000" font-family="Liberation Serif, serif" >0.53</text>
<text x="360.20" y="123.95" font-size="45.50" fill="#c80000" font-family="Liberation Serif, serif" >0.65</text>
<text x="360.20" y="180.40" font-size="45.50" fill="#ff7f0a" font-family="Liberation Serif, serif" >0.85</text>
<text x="360.20" y="236.85" font-size="45.50" fill="#f2b416" font-family="Liberation Serif, serif" >1.05</text>
<text x="360.20" y="293.30" font-size="45.50" fill="#12b474" font-family="Liberation Serif, serif" >1.09</text>
<text x="468.50" y="70.00" font-size="45.50" fill="#007010" font-family="Liberation Serif, serif" >1.21</text>
<text x="468.50" y="126.00" font-size="45.50" fill="#1ef8f8" font-family="Liberation Serif, serif" >1.31</text>
<text x="468.50" y="182.00" font-size="45.50" fill="#2a8ff0" font-family="Liberation Serif, serif" >1.38</text>
<text x="468.50" y="238.00" font-size="45.50" fill="#0000ff" font-family="Liberation Serif, serif" >1.83</text>
<text x="468.50" y="294.00" font-size="45.50" fill="#6e0a78" font-family="Liberation Serif, serif" >2.14</text>
<text x="575.70" y="68.60" font-size="45.50" fill="#fa0a6e" font-family="Liberation Serif, serif" >2.60</text>
<text x="575.70" y="124.60" font-size="45.50" fill="#f8a8a8" font-family="Liberation Serif, serif" >3.00</text>
<text x="575.70" y="180.60" font-size="45.50" fill="#fc7cfc" font-family="Liberation Serif, serif" >3.40</text>
<text x="575.70" y="236.60" font-size="45.50" fill="#b2b2b2" font-family="Liberation Serif, serif" >3.80</text>
<text x="575.70" y="292.60" font-size="45.50" fill="#626262" font-family="Liberation Serif, serif" >4.20</text>
<text x="1120" y="67.9" font-size="50" font-family="Liberation Serif, serif"><tspan font-style="italic">T</tspan> (K):</text>
<text x="1255.50" y="71.50" font-size="51.00" fill="#800000" font-family="Liberation Serif, serif" >0.50</text>
<text x="1255.50" y="134.70" font-size="51.00" fill="#f2b416" font-family="Liberation Serif, serif" >1.00</text>
<text x="1255.50" y="197.90" font-size="51.00" fill="#2a8ff0" font-family="Liberation Serif, serif" >1.50</text>
<text x="1255.50" y="261.10" font-size="51.00" fill="#6e0a78" font-family="Liberation Serif, serif" >2.00</text>
<text x="1255.50" y="324.30" font-size="51.00" fill="#fa0a6e" font-family="Liberation Serif, serif" >2.50</text>
</svg>
</body></html>
